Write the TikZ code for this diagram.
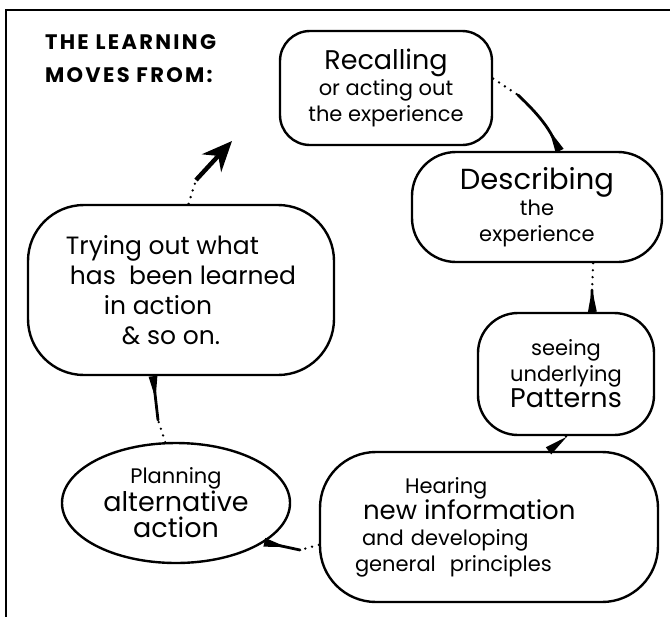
\documentclass[tikz,border=0pt]{standalone}
\usepackage{fontspec}
\setmainfont{Poppins}
\newfontfamily\headfont[LetterSpace=11.0]{Poppins}
\usetikzlibrary{positioning,arrows.meta,shapes.geometric}

% text sizes inside the bubbles
\newcommand{\stagebig}{\fontsize{13.5}{16}\selectfont}
\newcommand{\stagemid}{\fontsize{12.5}{15}\selectfont}
\newcommand{\stagesmall}{\fontsize{10.5}{13}\selectfont}

\begin{document}
\begin{tikzpicture}[x=0.5pt,y=-0.5pt,
  bubble/.style={draw, line width=1.2pt, align=center, inner sep=0pt, font=\stagesmall},
  trail/.style={line width=1.3pt, line cap=round, dash pattern=on 0pt off 3.5pt},
  stroke/.style={line width=1.4pt, line cap=round,
    -{Triangle[reversed,length=12pt,width=4pt]}},
  frame/.style={line width=1pt}]

  \useasboundingbox (0,0) rectangle (670,617);
  \draw[frame] (670,10) -- (6,10) -- (6,617);

  \node[align=left, anchor=north west, font=\headfont\bfseries\fontsize{10.5}{16.5}\selectfont] (title) at (38,28)
    {THE LEARNING\\MOVES FROM:};

  \node[bubble, rounded corners=15pt, minimum width=106pt, minimum height=57pt] (recall) at (386,88)
    {{\stagebig Recalling}\\ or acting out\\ the experience};
  \node[bubble, rounded corners=22pt, minimum width=125pt, minimum height=55pt] (describe) at (537,207)
    {{\fontsize{14.5}{17}\selectfont Describing}\\ the\\ experience};
  \node[bubble, rounded corners=20pt, minimum width=88pt, minimum height=61pt] (patterns) at (566,374)
    {seeing\\ underlying\\ {\stagebig Patterns}};
  \node[bubble, rounded corners=28pt, minimum width=169pt, minimum height=75pt,
        align=left, text width=150pt] (hearing) at (489,527)
    {\hspace*{33pt}Hearing\\ {\fontsize{13}{16}\selectfont\hspace*{12pt}new information}\\
     \hspace*{11.5pt}and developing\\ \hspace*{8pt}general\ \ principles};
  \node[bubble, ellipse, minimum width=114pt, minimum height=60pt] (planning) at (176,503)
    {Planning\\ {\stagebig alternative}\\ {\stagebig action}};
  \node[bubble, rounded corners=28pt, minimum width=153pt, minimum height=85pt, align=left, font=\stagemid] (trying) at (181,290)
    {Trying out what\\ \hspace*{2pt}has\ \ been learned\\
     \hspace*{19pt}in action\\ \hspace*{28pt}\& so on.};

  % turning points between the dotted and the solid part of each step
  \coordinate (m1) at (518,95);
  \coordinate (m2) at (592,290);
  \coordinate (m3) at (560,442);
  \coordinate (m4) at (300,550);
  \coordinate (m5) at (158,420);
  \coordinate (m6) at (196,180);
  \coordinate (next) at (232,141);

  \draw[trail] (recall.5) -- (m1);
  \draw[stroke] (m1) to[bend left=10] (describe.68);
  \draw[trail] (describe.-45) -- (m2);
  \draw[stroke] (m2) -- (patterns.67);
  \draw[trail] (patterns.south) -- (m3);
  \draw[stroke] (m3) -- (hearing.52);
  \draw[trail] (hearing.186) -- (m4);
  \draw[stroke] (m4) -- (planning.-24);
  \draw[trail] (planning.100) -- (m5);
  \draw[stroke] (m5) -- (trying.252);
  \draw[trail] (trying.85) -- (m6);
  \draw[line width=2.2pt, -{Stealth[length=15pt,width=13pt]}] (m6) -- (next);

\end{tikzpicture}
\end{document}
